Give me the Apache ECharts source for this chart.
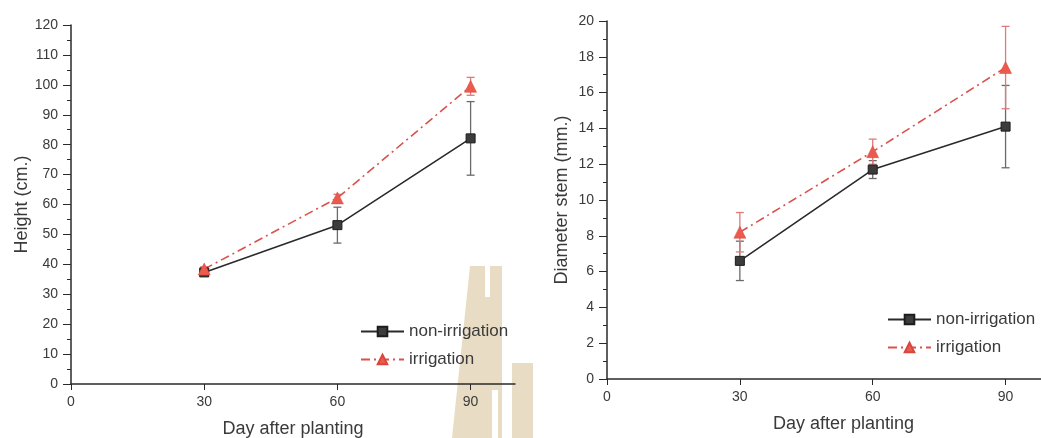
<!DOCTYPE html>
<html>
<head>
<meta charset="utf-8">
<script src="https://cdn.jsdelivr.net/npm/echarts@6/dist/echarts.min.js"></script>
<style>
  html, body { margin: 0; padding: 0; background: #ffffff; }
  #wrap { position: relative; width: 1041px; height: 438px; }
  #emblem, #chart { position: absolute; left: 0; top: 0; width: 1041px; height: 438px; }
</style>
</head>
<body>
<div id="wrap">
  <!-- faint university emblem printed behind the figure -->
  <svg id="emblem" width="1041" height="438" xmlns="http://www.w3.org/2000/svg">
    <polygon fill="#e9dcc4"
      points="470,266 485,266 485,297 490,297 490,266 502,266 502,438 498,438 498,390 492,390 492,438 452,438"/>
    <rect fill="#e9dcc4" x="512" y="363" width="21" height="75"/>
  </svg>
  <div id="chart"></div>
</div>
<script>
// Sampling days (days after planting)
const days = [30, 60, 90];
const dayTicks = [0, 30, 60, 90];

// Plant height (cm.), mean and standard deviation
const heightNon = [37.3, 53.1, 82.1];
const heightNonSd = [0.8, 6.0, 12.3];
const heightIrr = [38.4, 62.2, 99.5];
const heightIrrSd = [0.8, 1.2, 3.0];

// Stem diameter (mm.), mean and standard deviation
const diamNon = [6.6, 11.7, 14.1];
const diamNonSd = [1.1, 0.5, 2.3];
const diamIrr = [8.2, 12.7, 17.4];
const diamIrrSd = [1.1, 0.7, 2.3];

const FONT = "'Liberation Sans', Arial, sans-serif";
const TXT = '#3a3a3a';
const BLACK = '#2a2a2a';
const RED = '#ec5a4e';

const pairs = (ys) => days.map((d, i) => [d, ys[i]]);
const bars = (ys, sd) => days.map((d, i) => [d, ys[i] - sd[i], ys[i] + sd[i]]);

function errorBarItem(color) {
  return function (params, api) {
    const x = api.value(0);
    const lo = api.coord([x, api.value(1)]);
    const hi = api.coord([x, api.value(2)]);
    const half = 4;
    const style = { stroke: color, lineWidth: 1.3 };
    return {
      type: 'group',
      children: [
        { type: 'line', shape: { x1: lo[0], y1: lo[1], x2: hi[0], y2: hi[1] }, style },
        { type: 'line', shape: { x1: lo[0] - half, y1: lo[1], x2: lo[0] + half, y2: lo[1] }, style },
        { type: 'line', shape: { x1: hi[0] - half, y1: hi[1], x2: hi[0] + half, y2: hi[1] }, style }
      ]
    };
  };
}

function xAxisFor(gridIndex, max, namePad) {
  return {
    type: 'value', gridIndex, min: 0, max, interval: 30,
    name: 'Day after planting', nameLocation: 'middle', nameGap: 36,
    nameTextStyle: { fontFamily: FONT, fontSize: 18, color: TXT, padding: [0, 0, 0, namePad] },
    axisLine: { show: true, onZero: false, lineStyle: { color: BLACK, width: 1.5 } },
    axisTick: { show: true, inside: false, length: 6, customValues: dayTicks, lineStyle: { color: BLACK, width: 1 } },
    axisLabel: { customValues: dayTicks, margin: 11, fontFamily: FONT, fontSize: 14, color: TXT },
    splitLine: { show: false }
  };
}

function yAxisFor(gridIndex, max, interval, name, gap) {
  return {
    type: 'value', gridIndex, min: 0, max, interval,
    name, nameLocation: 'middle', nameGap: gap,
    nameTextStyle: { fontFamily: FONT, fontSize: 18, color: TXT },
    axisLine: { show: true, onZero: false, lineStyle: { color: BLACK, width: 1.5 } },
    axisTick: { show: true, inside: false, length: 8, lineStyle: { color: BLACK, width: 1 } },
    minorTick: { show: true, splitNumber: 2, length: 4, lineStyle: { color: BLACK, width: 1 } },
    axisLabel: { margin: 13, fontFamily: FONT, fontSize: 14, color: TXT },
    splitLine: { show: false }
  };
}

function meanSeries(name, data, xi, isIrr) {
  return {
    name, type: 'line', xAxisIndex: xi, yAxisIndex: xi, data,
    z: 5,
    symbol: isIrr ? 'triangle' : 'rect',
    symbolSize: isIrr ? 12 : 9,
    itemStyle: isIrr
      ? { color: RED, borderColor: '#d8463c', borderWidth: 0.5 }
      : { color: '#3c3c3c', borderColor: '#1c1c1c', borderWidth: 1 },
    lineStyle: isIrr
      ? { color: '#d9534c', width: 1.6, type: [9, 4, 2, 4] }
      : { color: BLACK, width: 1.6, type: 'solid' },
    emphasis: { disabled: true },
    animation: false
  };
}

function errSeries(data, xi, color) {
  return {
    type: 'custom', xAxisIndex: xi, yAxisIndex: xi, data,
    encode: { x: 0, y: [1, 2] },
    renderItem: errorBarItem(color),
    z: 3, silent: true, animation: false
  };
}

function legendAt(left, top) {
  return {
    orient: 'vertical', left, top, itemGap: 11, padding: 0,
    itemWidth: 43, itemHeight: 12,
    selectedMode: false,
    data: ['non-irrigation', 'irrigation'],
    textStyle: { fontFamily: FONT, fontSize: 17, color: TXT }
  };
}

const chart = echarts.init(document.getElementById('chart'), null, { renderer: 'canvas' });
chart.setOption({
  backgroundColor: 'transparent',
  animation: false,
  grid: [
    { left: 71, top: 25, width: 444, height: 359, outerBoundsMode: 'none', containLabel: false },
    { left: 607, top: 21, width: 434, height: 358, outerBoundsMode: 'none', containLabel: false }
  ],
  xAxis: [xAxisFor(0, 100, 0), xAxisFor(1, 98, 39)],
  yAxis: [
    yAxisFor(0, 120, 10, 'Height (cm.)', 40),
    yAxisFor(1, 20, 2, 'Diameter stem (mm.)', 36)
  ],
  legend: [legendAt(360, 323), legendAt(887, 311)],
  series: [
    errSeries(bars(heightNon, heightNonSd), 0, '#6a6a6a'),
    errSeries(bars(heightIrr, heightIrrSd), 0, '#e07a7a'),
    meanSeries('non-irrigation', pairs(heightNon), 0, false),
    meanSeries('irrigation', pairs(heightIrr), 0, true),
    errSeries(bars(diamNon, diamNonSd), 1, '#6a6a6a'),
    errSeries(bars(diamIrr, diamIrrSd), 1, '#e07a7a'),
    meanSeries('non-irrigation', pairs(diamNon), 1, false),
    meanSeries('irrigation', pairs(diamIrr), 1, true)
  ]
});
</script>
</body>
</html>
